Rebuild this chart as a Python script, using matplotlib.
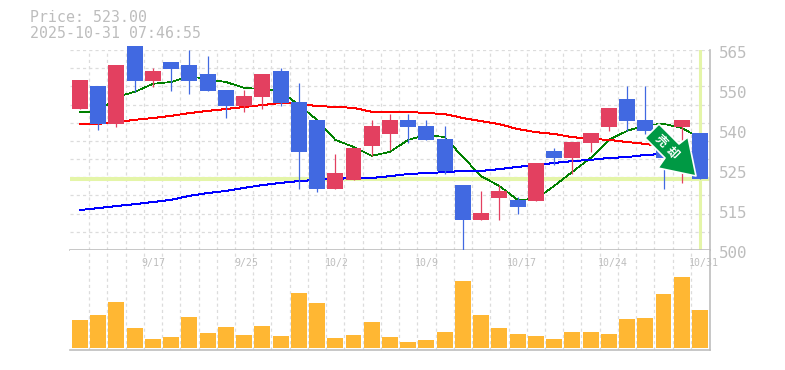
import numpy as np
import matplotlib
matplotlib.use("Agg")
import matplotlib.pyplot as plt
from matplotlib.patches import Polygon

plt.rcParams['font.family'] = ['Noto Sans CJK JP', 'DejaVu Sans']

# daily candles, oldest first
opens = [545.9, 553.3, 541.0, 566.3, 554.9, 561.1, 560.1, 557.2, 552.0, 546.8, 549.7, 558.2,
         548.1, 542.3, 519.8, 522.8, 533.8, 537.7, 542.3, 540.3, 536.1, 521.1, 509.8, 516.9,
         516.3, 516.0, 532.2, 529.9, 534.8, 540.0, 549.1, 542.3, 532.5, 540.0, 538.0]
closes = [555.3, 541.0, 560.1, 554.9, 558.2, 558.8, 554.9, 551.7, 546.8, 550.0, 557.2, 547.8,
          531.9, 519.8, 525.0, 533.2, 540.3, 542.3, 540.0, 535.8, 525.7, 509.8, 512.0, 519.2,
          514.0, 528.3, 529.9, 535.1, 538.0, 546.2, 541.9, 538.7, 529.9, 542.3, 523.0]
highs = [555.3, 553.3, 560.1, 566.3, 559.2, 561.1, 565.0, 563.0, 552.0, 552.0, 557.2, 559.2,
         554.3, 542.3, 531.2, 533.2, 542.3, 544.2, 544.2, 542.3, 540.3, 521.1, 519.2, 521.1,
         517.2, 528.3, 533.2, 535.1, 538.0, 546.2, 553.3, 553.3, 532.5, 542.3, 538.0]
lows = [545.9, 539.0, 540.0, 551.4, 553.0, 551.7, 550.7, 551.7, 542.9, 544.9, 545.8, 546.8,
        519.8, 518.8, 519.8, 522.8, 530.6, 532.5, 534.8, 535.8, 524.7, 500.0, 509.8, 509.8,
        511.7, 516.0, 527.6, 524.7, 531.9, 538.7, 538.7, 537.7, 519.8, 521.8, 523.0]
volume = [28, 33, 46, 20, 9, 11, 31, 15, 21, 13, 22, 12, 55, 45, 10, 13, 26, 11,
          6, 8, 16, 67, 33, 20, 14, 12, 9, 16, 16, 14, 29, 30, 54, 71, 38]
ma_short = [544.9, 544.9, 549.7, 551.4, 554.0, 554.6, 556.5, 555.5, 554.6, 552.7, 552.3, 551.7,
            547.1, 542.3, 535.8, 533.5, 530.6, 531.9, 535.8, 537.4, 536.7, 530.2, 524.0, 520.8,
            516.3, 516.6, 520.8, 525.4, 529.9, 535.8, 538.7, 540.6, 541.0, 539.7, 536.4]
ma_mid = [541.0, 541.0, 541.6, 542.3, 542.9, 543.6, 544.5, 545.2, 545.8, 546.5, 547.1, 547.8,
          547.5, 546.8, 546.5, 546.2, 544.9, 544.9, 544.9, 544.5, 544.2, 542.9, 541.9, 540.9,
          539.3, 538.3, 537.7, 536.7, 536.1, 535.8, 535.1, 534.5, 533.5, 532.5, 531.5]
ma_long = [513.0, 513.6, 514.3, 514.9, 515.6, 516.3, 517.6, 518.5, 519.2, 520.2, 521.1, 521.8,
           522.4, 522.8, 523.1, 523.4, 523.4, 524.0, 524.7, 525.0, 525.3, 525.7, 525.7, 526.3,
           527.0, 527.6, 528.3, 528.9, 529.3, 529.9, 530.2, 530.9, 531.2, 531.5, 531.9]
current_price = 523.0
grid_prices = [565, 552, 539, 526, 513, 500]
price_labels = ['565', '550', '540', '525', '515', '500']
date_pos = [4, 9.1, 14.1, 19, 24.2, 29.2, 34.2]
date_labels = ['9/17', '9/25', '10/2', '10/9', '10/17', '10/24', '10/31']

RED = '#e34060'
BLUE = '#4169e1'
GRAY = '#bdbdbd'
GRID = '#dcdcdc'
W, H = 785, 370


def axes_px(x0, y0, x1, y1):
    return fig.add_axes([x0 / W, 1 - y1 / H, (x1 - x0) / W, (y1 - y0) / H])


fig = plt.figure(figsize=(W / 100, H / 100), dpi=100)
ax = axes_px(70, 50, 710, 250)
vol = axes_px(70, 250, 710, 350)
idx = np.arange(len(opens))

for a in (ax, vol):
    a.set_xlim(-0.548, 34.55)
    a.set_xticks(idx[:-1] + 0.5)
    a.tick_params(length=0, labelbottom=False, labelleft=False)
    a.grid(axis='x', color=GRID, lw=0.9, ls=(0, (2.5, 2.5)))
    a.set_axisbelow(True)
    for s in ('top', 'left'):
        a.spines[s].set_visible(False)
    for s in ('bottom', 'right'):
        a.spines[s].set_color(GRAY)
        a.spines[s].set_linewidth(1.2)

ax.set_ylim(500, 565)
ax.set_yticks(np.linspace(500, 565, 12)[1:-1])
ax.grid(axis='y', color=GRID, lw=0.9, ls=(0, (2.5, 2.5)))
ax.axhline(565, color=GRID, lw=0.9, ls=(0, (2.5, 2.5)), zorder=0.5)

ax.axhline(current_price, color='#e4f5a8', lw=2.9, zorder=1)
ax.axvline(34, color='#e4f5a8', lw=2.2, zorder=1)

ax.plot(idx, ma_short, color='green', lw=0.5, zorder=2, antialiased=False)
ax.plot(idx, ma_mid, color='red', lw=0.7, zorder=2, antialiased=False)
ax.plot(idx, ma_long, color='blue', lw=0.7, zorder=2, antialiased=False)

colors = [RED if c > o else BLUE for o, c in zip(opens, closes)]
ax.vlines(idx, lows, highs, colors=colors, lw=0.9, zorder=3, clip_on=False)
ax.bar(idx, np.abs(np.array(closes) - np.array(opens)), bottom=np.minimum(opens, closes),
       width=0.875, color=colors, zorder=4, clip_on=False)

vol.bar(idx, volume, width=0.875, color='#ffb733', zorder=3)
vol.set_ylim(-2, 98)

for p, s in zip(grid_prices, price_labels):
    ax.annotate(s, xy=(1, (p - 500) / 65), xycoords='axes fraction', xytext=(9, -3),
                textcoords='offset pixels', ha='left', va='center',
                family=['DejaVu Sans Mono'], fontsize=11.4, color=GRAY)
for d, s in zip(date_pos, date_labels):
    vol.text(d, 85, s, ha='center', va='center', family=['DejaVu Sans Mono'], fontsize=7.1, color=GRAY)

fig.text(30 / W, 1 - 18 / H, 'Price: 523.00', family=['DejaVu Sans Mono'], fontsize=10.7,
         color=GRAY, va='center')
fig.text(30 / W, 1 - 33 / H, '2025-10-31 07:46:55', family=['DejaVu Sans Mono'], fontsize=10.7,
         color=GRAY, va='center')

# signal arrow, in pixels
over = fig.add_axes([0, 0, 1, 1])
over.set_xlim(0, W)
over.set_ylim(H, 0)
over.axis('off')
over.patch.set_alpha(0)
arrow = [(659, 124), (645, 138), (665, 158), (658, 168), (696, 176), (688, 137), (679, 144)]
over.add_patch(Polygon(arrow, closed=True, fc='#009944', ec='white', lw=1.2, joinstyle='round'))
over.text(661, 141, '売', color='white', fontsize=8.5, rotation=-45, ha='center', va='center', weight='bold')
over.text(672, 153, '却', color='white', fontsize=8.5, rotation=-45, ha='center', va='center', weight='bold')

fig.savefig('out.png', dpi=100)
